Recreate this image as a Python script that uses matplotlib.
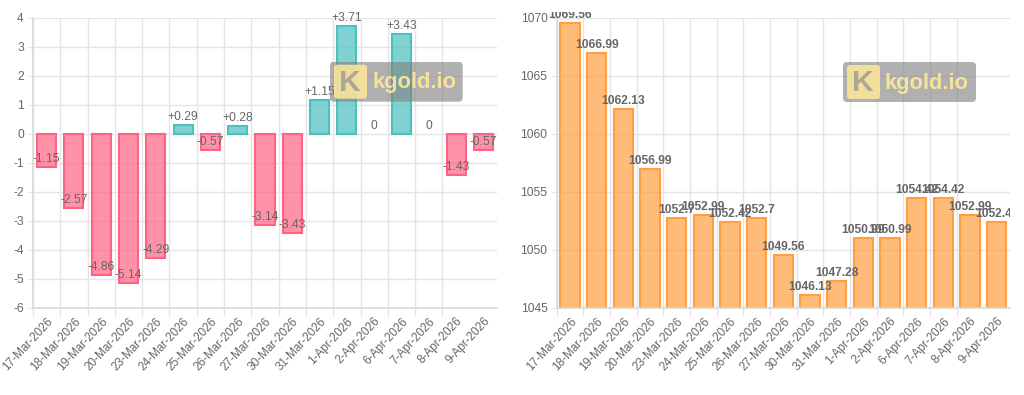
import numpy as np
import matplotlib
matplotlib.use("Agg")
import matplotlib.pyplot as plt
from matplotlib.patches import FancyBboxPatch
from matplotlib.transforms import Bbox, TransformedBbox

plt.rcParams['font.family'] = ['Liberation Sans', 'DejaVu Sans']
plt.rcParams['axes.unicode_minus'] = False

# ----- Data -----
dates = ["17-Mar-2026", "18-Mar-2026", "19-Mar-2026", "20-Mar-2026", "23-Mar-2026",
         "24-Mar-2026", "25-Mar-2026", "26-Mar-2026", "27-Mar-2026", "30-Mar-2026",
         "31-Mar-2026", "1-Apr-2026", "2-Apr-2026", "6-Apr-2026", "7-Apr-2026",
         "8-Apr-2026", "9-Apr-2026"]
changes = [-1.15, -2.57, -4.86, -5.14, -4.29, 0.29, -0.57, 0.28, -3.14, -3.43,
           1.15, 3.71, 0, 3.43, 0, -1.43, -0.57]
prices = [1069.56, 1066.99, 1062.13, 1056.99, 1052.7, 1052.99, 1052.42, 1052.7,
          1049.56, 1046.13, 1047.28, 1050.99, 1050.99, 1054.42, 1054.42, 1052.99,
          1052.42]

W, H = 1024, 395
TXT = '#666666'
GRID = '#e5e5e5'
PX = 0.72  # points per pixel at dpi 100

fig = plt.figure(figsize=(W / 100, H / 100), dpi=100)


def px_axes(x0, y0, x1, y1):
    return fig.add_axes([x0 / W, 1 - y1 / H, (x1 - x0) / W, (y1 - y0) / H])


def style(ax, ylim, step):
    n = len(dates)
    x = np.arange(n)
    ax.set_xlim(-0.5, n - 0.5)
    ax.set_ylim(*ylim)
    ax.set_yticks(np.arange(ylim[0], ylim[1] + step / 2, step))
    ax.set_xticks(x)
    ax.set_xticklabels(dates, rotation=47, ha='right', va='top',
                       rotation_mode='anchor')
    ax.set_xticks(np.arange(n - 1) - 0.5, minor=True)
    ax.tick_params(axis='x', which='major', length=0, pad=5.5,
                   labelsize=11.7 * PX, labelcolor=TXT)
    ax.tick_params(axis='x', which='minor', length=8 * PX, color=GRID, width=1)
    ax.tick_params(axis='y', length=5 * PX, color=GRID, pad=3, labelsize=12 * PX,
                   labelcolor=TXT)
    ax.grid(True, axis='x', which='minor', color=GRID, lw=1)
    ax.grid(True, axis='y', which='major', color=GRID, lw=1)
    ax.set_axisbelow(True)
    for s in ['top', 'right']:
        ax.spines[s].set_visible(False)
    for s in ['left', 'bottom']:
        ax.spines[s].set_color('#d9d9d9')
        ax.spines[s].set_linewidth(1.2)


def watermark(x0, y0, x1, y1):
    wm = px_axes(x0, y0, x1, y1)
    wm.set_axis_off()
    wm.set_xlim(0, x1 - x0)
    wm.set_ylim(y1 - y0, 0)
    wm.add_patch(FancyBboxPatch((2, 2), x1 - x0 - 4, y1 - y0 - 4,
                                boxstyle="round,pad=2,rounding_size=4",
                                fc='#808080', ec='none', alpha=0.62))
    wm.add_patch(FancyBboxPatch((4, 3), 33, 34,
                                boxstyle="round,pad=0,rounding_size=3",
                                fc='#fbe59a', ec='none', alpha=0.9))
    wm.text(20, 21, "K", fontsize=30 * PX, fontweight='bold', color='#a3a394',
            ha='center', va='center', alpha=0.9)
    wm.text(42, 21, "kgold.io", fontsize=22 * PX, fontweight='bold',
            color='#fbe59a', ha='left', va='center', alpha=0.95)


# ----- Left: daily change -----
ax1 = px_axes(33, 17.7, 497, 307.7)
style(ax1, (-6, 4), 1)
x = np.arange(len(dates))
for xi, v in zip(x, changes):
    if v < 0:
        fc, ec = (1.0, 0.388, 0.518, 0.7), '#ff6384'
    else:
        fc, ec = (0.294, 0.753, 0.753, 0.7), '#4bc0c0'
    ax1.bar(xi, v, width=0.7, color=fc, edgecolor=ec,
            linewidth=1.5 if v != 0 else 0)
    lab = "0" if v == 0 else (f"+{v:.2f}" if v > 0 else f"{v:.2f}")
    ax1.annotate(lab, (xi, v), xytext=(0, 8 * PX), textcoords='offset points',
                 ha='center', va='center', fontsize=12 * PX, color=TXT)

# ----- Right: price -----
ax2 = px_axes(556.7, 17.7, 1010, 307.7)
style(ax2, (1045, 1070), 5)
ax2.bar(x, np.array(prices) - 1045, bottom=1045, width=0.72,
        color=(1.0, 0.624, 0.251, 0.7), edgecolor='#ff9f40', linewidth=1.5)
clip = TransformedBbox(Bbox([[-0.1, -0.2], [1, 1.02]]), ax2.transAxes)
for xi, v in zip(x, prices):
    t = ax2.annotate(f"{v:g}", (xi, v), xytext=(0, 8 * PX),
                     textcoords='offset points', ha='center', va='center',
                     fontsize=12 * PX, color=TXT, fontweight='bold')
    t.set_clip_box(clip)
    t.set_clip_on(True)

watermark(330, 61.7, 462.7, 101.7)
watermark(843, 62, 976, 102)

fig.savefig("out.png", dpi=100)
